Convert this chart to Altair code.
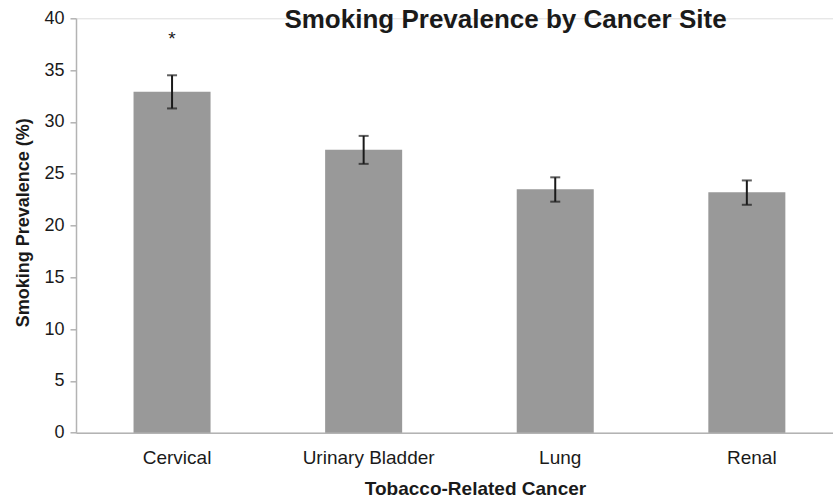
import altair as alt
import pandas as pd

# Smoking prevalence (%) by tobacco-related cancer site, with error bar bounds
sites = ["Cervical", "Urinary Bladder", "Lung", "Renal"]
prevalence = [32.9, 27.3, 23.5, 23.2]
err_low = [31.3, 25.95, 22.3, 22.0]
err_high = [34.5, 28.65, 24.65, 24.35]
marker_site = ["Cervical"]
marker_text = ["*"]
marker_value = [38.0]

FONT = "Liberation Sans"
TEXT = "#1a1a1a"
AXIS = "#b3b3b3"

df = pd.DataFrame({
    "site": sites,
    "prevalence": prevalence,
    "low": err_low,
    "high": err_high,
})
marks = pd.DataFrame({"site": marker_site, "label": marker_text, "value": marker_value})

x_scale = alt.Scale(domain=sites, paddingInner=0.598, paddingOuter=0.2745, align=0.547)
y_scale = alt.Scale(domain=[0, 40], nice=False)

x_enc = alt.X(
    "site:N",
    scale=x_scale,
    sort=sites,
    axis=alt.Axis(
        title="Tobacco-Related Cancer",
        titleFont=FONT, titleFontSize=19, titleFontWeight="bold", titleColor=TEXT,
        titleX=399, titleY=62, titleBaseline="alphabetic",
        labelFont=FONT, labelFontSize=19, labelColor=TEXT, labelAngle=0,
        labelPadding=16, labelOffset=5, ticks=False,
        domainColor=AXIS, domainWidth=1.5,
    ),
)

y_enc = alt.Y(
    "prevalence:Q",
    scale=y_scale,
    axis=alt.Axis(
        title="Smoking  Prevalence (%)",
        values=[0, 5, 10, 15, 20, 25, 30, 35, 40],
        titleFont=FONT, titleFontSize=18, titleFontWeight="bold", titleColor=TEXT,
        titleX=-48, titleY=204, titleBaseline="alphabetic", titleAngle=270,
        labelFont=FONT, labelFontSize=18, labelColor=TEXT, labelPadding=6,
        tickSize=6, tickColor=AXIS, tickWidth=1.5,
        domainColor=AXIS, domainWidth=1.5, grid=False,
    ),
)

base = alt.Chart(df)

bars = base.mark_bar(color="#999999").encode(x=x_enc, y=y_enc)

whisker = base.mark_rule(color=TEXT, strokeWidth=2).encode(
    x=alt.X("site:N", scale=x_scale, sort=sites),
    y=alt.Y("low:Q", scale=y_scale),
    y2="high:Q",
)
cap_low = base.mark_tick(color=TEXT, size=10, thickness=2).encode(
    x=alt.X("site:N", scale=x_scale, sort=sites),
    y=alt.Y("low:Q", scale=y_scale),
)
cap_high = base.mark_tick(color=TEXT, size=10, thickness=2).encode(
    x=alt.X("site:N", scale=x_scale, sort=sites),
    y=alt.Y("high:Q", scale=y_scale),
)

star = alt.Chart(marks).mark_text(font=FONT, fontSize=19, color=TEXT, baseline="middle").encode(
    x=alt.X("site:N", scale=x_scale, sort=sites),
    y=alt.Y("value:Q", scale=y_scale),
    text="label:N",
)

chart = (
    alt.layer(bars, whisker, cap_low, cap_high, star)
    .properties(
        width=757,
        height=414.4,
        autosize=alt.AutoSizeParams(type="none"),
        padding={"left": 76, "top": 18.3, "right": 0, "bottom": 68.3},
        title=alt.TitleParams(
            "Smoking Prevalence by Cancer Site",
            font=FONT, fontSize=26, fontWeight="bold", color=TEXT,
            anchor="middle", dx=51, offset=-45, baseline="alphabetic",
        ),
    )
    .configure_view(stroke=None)
    .configure(background="white")
)

chart.save("out.html", embed_options={"renderer": "svg", "actions": False})
